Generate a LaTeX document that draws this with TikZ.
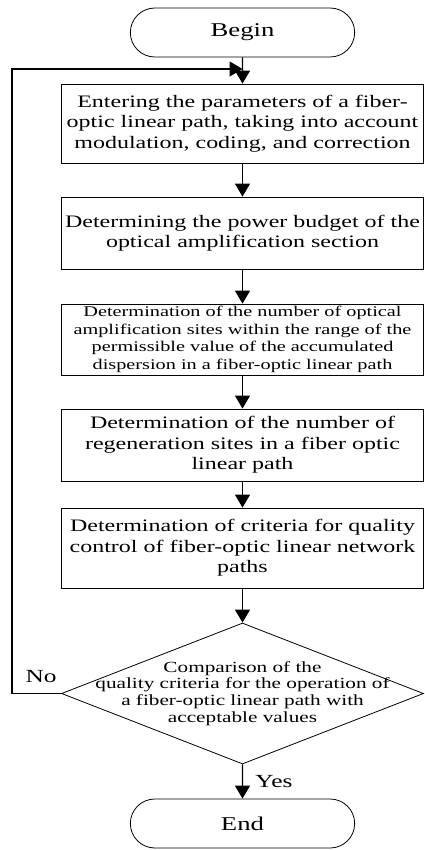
\documentclass[tikz,border=0pt]{standalone}
\usepackage{fontspec}
\setmainfont[FakeStretch=1.37]{Liberation Serif}
\usetikzlibrary{arrows.meta, shapes.misc, shapes.geometric}

\begin{document}
\begin{tikzpicture}[x=1pt, y=-1pt,
        line join=miter,
        terminal/.style={rounded rectangle, draw, line width=0.8pt, minimum width=231pt, minimum height=49pt, font=\fontsize{19.5}{24}\selectfont},
        stepbox/.style={rectangle, draw, line width=0.8pt, minimum width=362pt, align=center, inner sep=0pt, font=\fontsize{17.5}{20.5}\selectfont},
        decision/.style={diamond, draw, line width=0.8pt, minimum width=362pt, minimum height=141pt, inner sep=0pt},
        arrow/.style={-{Triangle[width=15pt, length=13pt]}, line width=1.3pt},
        answer/.style={font=\fontsize{18.5}{22}\selectfont}]
        \useasboundingbox (0,0) rectangle (425,850);

        % begin
        \node[terminal] (begin) at (242.5,32.5) {Begin};

        % steps
        \node[stepbox, minimum height=79pt] (enter) at (242.5,123.5) {Entering the parameters of a fiber-\\optic linear path, taking into account\\modulation, coding, and correction};
        \node[stepbox, minimum height=72pt] (budget) at (242.5,233) {Determining the power budget of the\\optical amplification section};
        \node[stepbox, minimum height=71pt, font=\fontsize{14.8}{17.7}\selectfont] (amps) at (242.5,339.5) {Determination of the number of optical\\amplification sites within the range of the\\permissible value of the accumulated\\dispersion in a fiber-optic linear path};
        \node[stepbox, minimum height=72pt] (regen) at (242.5,445) {Determination of the number of\\regeneration sites in a fiber optic\\linear path};
        \node[stepbox, minimum height=80pt] (criteria) at (242.5,548) {Determination of criteria for quality\\control of fiber-optic linear network\\paths};

        % comparison
        \node[decision] (compare) at (242.5,693.5) {};
        \node[align=center, font=\fontsize{15.5}{16.8}\selectfont] (comparetext) at (compare) {Comparison of the\\quality criteria for the operation of\\a fiber-optic linear path with\\acceptable values};

        % end
        \node[terminal] (end) at (242.5,823.5) {End};

        % main flow
        \draw[arrow] (begin) -- (enter);
        \draw[arrow] (enter) -- (budget);
        \draw[arrow] (budget) -- (amps);
        \draw[arrow] (amps) -- (regen);
        \draw[arrow] (regen) -- (criteria);
        \draw[arrow] (criteria) -- (compare);
        \draw[arrow] (compare) -- node[answer, right, pos=0.5, xshift=9pt] (yes) {Yes} (end);

        % loop back
        \coordinate (back) at (12,693.5);
        \coordinate (join) at (242.5,69);
        \draw[arrow] (compare.west) -- (back) |- (join);
        \node[answer] (no) at (41,677) {No};

    \end{tikzpicture}
\end{document}
